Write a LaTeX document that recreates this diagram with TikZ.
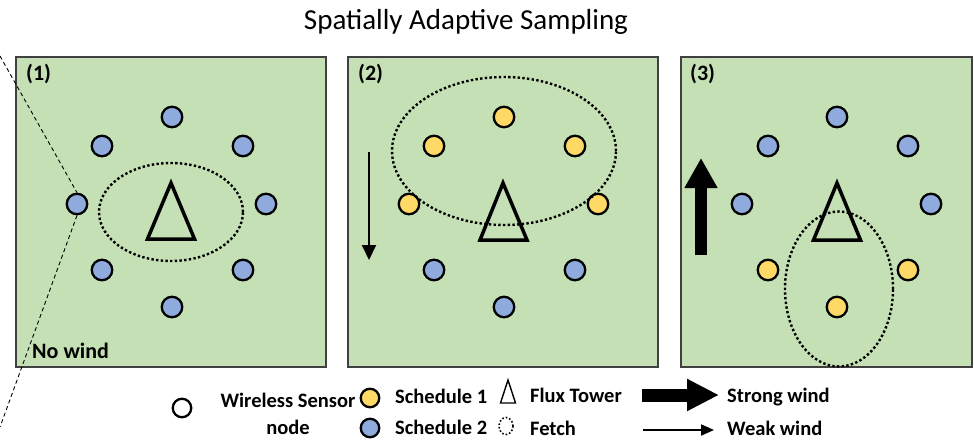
\documentclass[tikz,border=0pt]{standalone}
\usepackage{fontspec}
\setmainfont{Carlito}
\usetikzlibrary{arrows.meta}
\definecolor{panelgreen}{HTML}{C5E0B4}
\definecolor{nodeblue}{HTML}{8FAADC}
\definecolor{nodeyellow}{HTML}{FFD966}
\definecolor{panelborder}{HTML}{404040}
\tikzset{
  panel/.style={fill=panelgreen, draw=panelborder, line width=1.5pt},
  snode/.style={circle, draw=black, line width=2.3pt, minimum size=20.5pt, inner sep=0pt},
  legnode/.style={snode, minimum size=18.5pt},
  fetch/.style={draw=black, line width=2.4pt, dash pattern=on 2.4pt off 2.3pt},
  tower/.style={draw=black, line width=3.5pt, line join=miter},
  zoomline/.style={draw=black, line width=0.9pt, dash pattern=on 4pt off 3pt},
  lbl/.style={font=\bfseries\fontsize{22}{26}\selectfont, inner sep=0pt},
  legtext/.style={font=\bfseries\fontsize{20.5}{24}\selectfont, inner sep=0pt},
  strongarrow/.style={draw=black, line width=12pt, -{Triangle[length=30pt,width=31pt]}},
  weakarrow/.style={draw=black, line width=2pt, -{Triangle[length=15pt,width=14pt]}},
}
\begin{document}
\begin{tikzpicture}[x=1pt,y=-1pt]
\useasboundingbox (0,0) rectangle (974,442);

% title
\node[font=\fontsize{29}{34}\selectfont, inner sep=0pt, anchor=base] (title) at (466,29.5) {Spatially Adaptive Sampling};

% panels
\draw[panel] (16,57) rectangle (326,367);
\draw[panel] (348,57) rectangle (658,367);
\draw[panel] (681,57) rectangle (972,367);

% panel 1 sensors
\foreach \n/\dx/\yy/\c in {t/0/117/nodeblue, ul/-70/146/nodeblue, ur/71/146/nodeblue, l/-95/204/nodeblue, r/94/204/nodeblue, dl/-70/270/nodeblue, dr/71/270/nodeblue, b/0/307/nodeblue}
  \node[snode, fill=\c] (pA\n) at (172+\dx,\yy) {};
% panel 2 sensors
\foreach \n/\dx/\yy/\c in {t/0/117/nodeyellow, ul/-70/146/nodeyellow, ur/71/146/nodeyellow, l/-95/204/nodeyellow, r/94/204/nodeyellow, dl/-70/270/nodeblue, dr/71/270/nodeblue, b/0/307/nodeblue}
  \node[snode, fill=\c] (pB\n) at (504+\dx,\yy) {};
% panel 3 sensors
\foreach \n/\dx/\yy/\c in {t/0/117/nodeblue, ul/-69/146/nodeblue, ur/71/146/nodeblue, l/-95/204/nodeblue, r/94/204/nodeblue, dl/-69/270/nodeyellow, dr/71/270/nodeyellow, b/0/307/nodeyellow}
  \node[snode, fill=\c] (pC\n) at (837+\dx,\yy) {};

% flux towers
\draw[tower] (171,183) -- (147.5,239) -- (194.5,239) -- cycle;
\draw[tower] (503,183) -- (480,240) -- (527,240) -- cycle;
\draw[tower] (837,183) -- (813.5,240) -- (860.5,240) -- cycle;

% fetch ellipses
\draw[fetch] (171,212) ellipse [x radius=72pt, y radius=49pt];
\draw[fetch] (504,151) ellipse [x radius=112pt, y radius=74pt];
\draw[fetch] (839,289) ellipse [x radius=54pt, y radius=77.5pt];

% wind arrows
\coordinate (wBa) at (369,152);
\coordinate (wBb) at (369,260);
\draw[weakarrow] (wBa) -- (wBb);
\coordinate (wCa) at (701,255);
\coordinate (wCb) at (701,158);
\draw[strongarrow] (wCa) -- (wCb);

% zoom lines
\coordinate (zA) at (0,56);
\coordinate (zB) at (0,427);
\draw[zoomline] (zA) -- (pAl.north);
\draw[zoomline] (pAl.south) -- (zB);

% panel labels
\node[lbl, anchor=base west] (lab1) at (26,80) {(1)};
\node[lbl, anchor=base west] (lab2) at (358,80) {(2)};
\node[lbl, anchor=base west] (lab3) at (690,80) {(3)};
\node[lbl, anchor=base west] (nowind) at (32,358) {No wind};

% legend
\node[legnode, fill=white] (legW) at (182,408) {};
\node[legtext, anchor=base] (legWt1) at (288,407) {Wireless Sensor};
\node[legtext, anchor=base] (legWt2) at (288,434) {node};
\node[legnode, fill=nodeyellow] (legY) at (370,398) {};
\node[legnode, fill=nodeblue] (legB) at (370,428) {};
\node[legtext, anchor=base west] (legYt) at (395,403.5) {Schedule 1};
\node[legtext, anchor=base west] (legBt) at (395,434.5) {Schedule 2};
\draw[draw=black, line width=1.4pt, line join=miter] (508,380) -- (500.5,403) -- (515.5,403) -- cycle;
\draw[draw=black, line width=1.6pt, dash pattern=on 1.6pt off 2pt] (506,426) ellipse [x radius=7pt, y radius=8.5pt];
\node[legtext, anchor=base west] (legTt) at (530,402.5) {Flux Tower};
\node[legtext, anchor=base west] (legFt) at (530,435) {Fetch};
\coordinate (lsA) at (642,395);
\coordinate (lsB) at (719,395);
\draw[draw=black, line width=13pt, -{Triangle[length=32pt,width=30pt]}] (lsA) -- (lsB);
\coordinate (lwA) at (643,430);
\coordinate (lwB) at (714,430);
\draw[draw=black, line width=2pt, -{Triangle[length=13pt,width=11pt]}] (lwA) -- (lwB);
\node[legtext, anchor=base west] (legSt) at (727,402.5) {Strong wind};
\node[legtext, anchor=base west] (legWw) at (727,435.5) {Weak wind};
\end{tikzpicture}
\end{document}
